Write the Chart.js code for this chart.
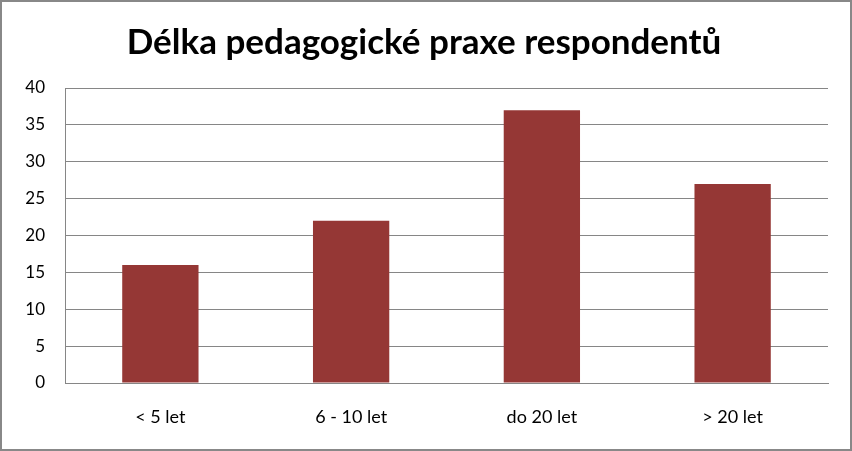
<!DOCTYPE html>
<html lang="cs">
<head>
    <meta charset="UTF-8">
    <title>Délka pedagogické praxe respondentů</title>
    <script src="https://cdn.jsdelivr.net/npm/chart.js"></script>
    <style>
        body {
            margin: 0;
            background: #fff;
        }

        .chart-box {
            width: 852px;
            height: 451px;
            box-sizing: border-box;
            border: 2px solid #888888;
            background: #fff;
        }
    </style>
</head>
<body>
    <div class="chart-box">
        <canvas id="barChart" width="848" height="447"></canvas>
    </div>

    <script>
        const categories = ['< 5 let', '6 - 10 let', 'do 20 let', '> 20 let'];
        const values = [16, 22, 37, 27];
        const yTicks = [0, 5, 10, 15, 20, 25, 30, 35, 40];

        const fontFamily = "Lato, 'Open Sans', sans-serif";

        new Chart(document.getElementById('barChart'), {
            type: 'bar',
            data: {
                labels: categories,
                datasets: [{
                    data: values,
                    backgroundColor: '#953735',
                    categoryPercentage: 1,
                    barPercentage: 0.4
                }]
            },
            options: {
                responsive: false,
                animation: false,
                layout: {
                    // left padding keeps the title centred like the original
                    padding: { left: 18, right: 22, top: 0, bottom: 0 }
                },
                plugins: {
                    legend: { display: false },
                    tooltip: { enabled: false },
                    title: {
                        display: true,
                        text: 'Délka pedagogické praxe respondentů',
                        color: '#000',
                        font: { family: fontFamily, size: 35, weight: 'bold' },
                        padding: { top: 20, bottom: 24 }
                    }
                },
                scales: {
                    x: {
                        grid: { display: false, drawTicks: false },
                        border: { color: '#868686' },
                        ticks: {
                            color: '#000',
                            padding: 23,
                            font: { family: fontFamily, size: 18 }
                        },
                        afterFit(scale) { scale.height = 66; }
                    },
                    y: {
                        min: 0,
                        max: 40,
                        afterBuildTicks(scale) {
                            scale.ticks = yTicks.map(v => ({ value: v }));
                        },
                        grid: { color: '#868686', drawTicks: false },
                        border: { color: '#868686' },
                        ticks: {
                            color: '#000',
                            padding: 20,
                            font: { family: fontFamily, size: 17 }
                        },
                        afterFit(scale) { scale.width = 45; }
                    }
                }
            }
        });
    </script>
</body>
</html>
